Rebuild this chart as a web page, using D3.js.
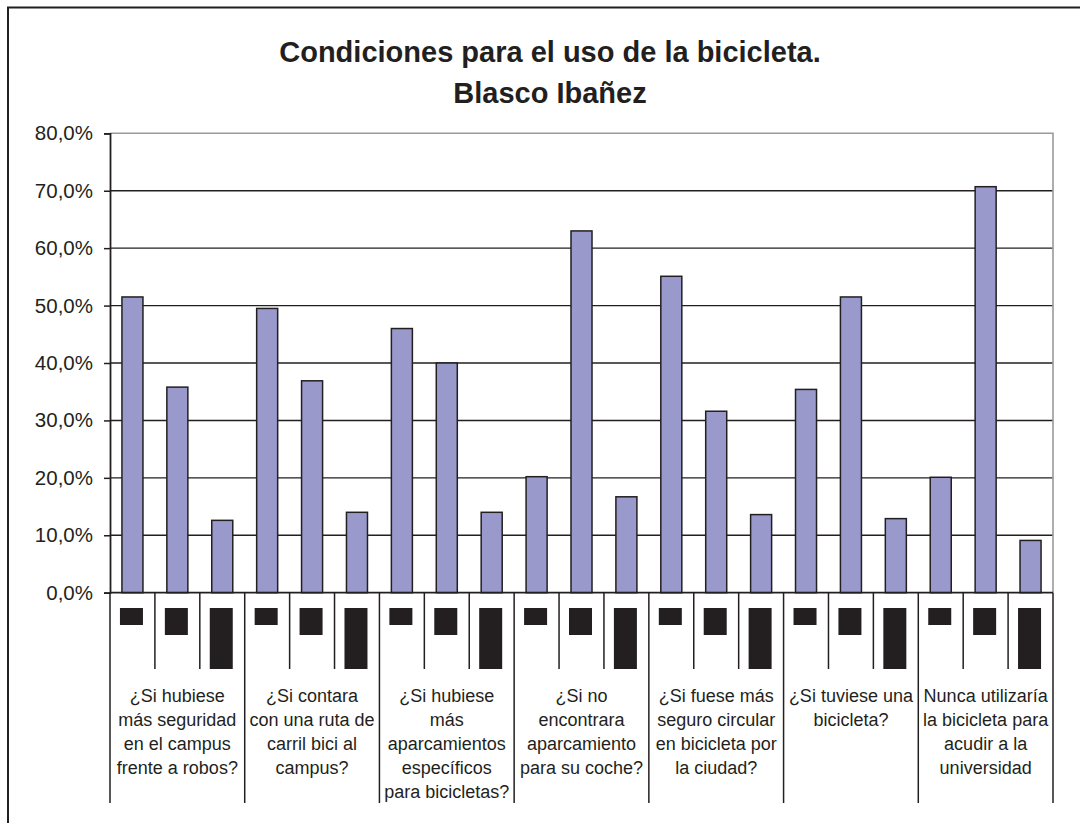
<!DOCTYPE html>
<html lang="es">
<head>
<meta charset="utf-8">
<script src="https://cdn.jsdelivr.net/npm/d3@7"></script>
<style>
  html, body { margin: 0; padding: 0; background: #ffffff; }
  svg { display: block; }
  text { font-family: "Liberation Sans", Arial, Helvetica, sans-serif; fill: #231f20; }
</style>
</head>
<body>
<svg id="chart" width="1080" height="823"></svg>
<script>
// Conditions under which respondents would use the bicycle (Blasco Ibañez campus)
const categories = [
  ["¿Si hubiese", "más seguridad", "en el campus", "frente a robos?"],
  ["¿Si contara", "con una ruta de", "carril bici al", "campus?"],
  ["¿Si hubiese", "más", "aparcamientos", "específicos", "para bicicletas?"],
  ["¿Si no", "encontrara", "aparcamiento", "para su coche?"],
  ["¿Si fuese más", "seguro circular", "en bicicleta por", "la ciudad?"],
  ["¿Si tuviese una", "bicicleta?"],
  ["Nunca utilizaría", "la bicicleta para", "acudir a la", "universidad"]
];
// Three answer columns per question (percent of respondents)
const answerA = [51.5, 49.5, 46.0, 20.2, 55.1, 35.4, 20.1];
const answerB = [35.8, 36.9, 40.0, 63.0, 31.6, 51.5, 70.7];
const answerC = [12.6, 14.0, 14.0, 16.7, 13.6, 12.9, 9.1];
const yTicks = [0, 10, 20, 30, 40, 50, 60, 70, 80];
const titleLines = ["Condiciones para el uso de la bicicleta.", "Blasco Ibañez"];

// Layout
const plot = { left: 110, right: 1053, top: 133.3, bottom: 592.7 };
const ink = "#231f20";
const barFill = "#9999cc";
const frameGray = "#9a9a9a";
const markerHeights = [17, 27, 61];   // inner-level label blocks under each column
const markerWidth = 23;

const svg = d3.select("#chart");

// Outer chart frame (runs off the right and bottom edges)
svg.append("rect")
  .attr("x", 8).attr("y", 7.5)
  .attr("width", 1100).attr("height", 860)
  .attr("fill", "#ffffff").attr("stroke", ink).attr("stroke-width", 2);

// Title
svg.append("g").selectAll("text")
  .data(titleLines).join("text")
  .attr("x", 550).attr("y", (d, i) => 62 + i * 41)
  .attr("text-anchor", "middle")
  .attr("font-size", 29).attr("font-weight", "bold")
  .text(d => d);

// Scales
const groupIdx = d3.range(categories.length);
const x0 = d3.scaleBand().domain(groupIdx).range([plot.left, plot.right]).padding(0);
const slotIdx = [0, 1, 2];
const x1 = d3.scaleBand().domain(slotIdx).range([0, x0.bandwidth()])
  .paddingInner(0.532).paddingOuter(0.266);
const slotScale = d3.scaleBand().domain(slotIdx).range([0, x0.bandwidth()]).padding(0);
const y = d3.scaleLinear().domain([0, 80]).range([plot.bottom, plot.top]);

// Gridlines
const grid = svg.append("g");
grid.selectAll("line")
  .data(yTicks.filter(t => t > 0 && t < 80)).join("line")
  .attr("x1", plot.left).attr("x2", plot.right)
  .attr("y1", d => y(d)).attr("y2", d => y(d))
  .attr("stroke", ink).attr("stroke-width", 1.4);

// Plot-area border (top and right in gray)
svg.append("path")
  .attr("d", `M${plot.left},${y(80)}H${plot.right}V${plot.bottom}`)
  .attr("fill", "none").attr("stroke", frameGray).attr("stroke-width", 1.6);

// Bars
const rows = groupIdx.flatMap(g => [
  { g, s: 0, v: answerA[g] },
  { g, s: 1, v: answerB[g] },
  { g, s: 2, v: answerC[g] }
]);
svg.append("g").selectAll("rect")
  .data(rows).join("rect")
  .attr("x", d => x0(d.g) + x1(d.s))
  .attr("y", d => y(d.v))
  .attr("width", x1.bandwidth())
  .attr("height", d => y(0) - y(d.v))
  .attr("fill", barFill)
  .attr("stroke", ink).attr("stroke-width", 1.5);

// Y axis
const yAxis = d3.axisLeft(y)
  .tickValues(yTicks)
  .tickSize(6)
  .tickPadding(11)
  .tickFormat(d => d3.format(".1f")(d).replace(".", ",") + "%");
const yg = svg.append("g")
  .attr("transform", `translate(${plot.left},0)`)
  .call(yAxis);
yg.select(".domain").attr("stroke", ink).attr("stroke-width", 1.8);
yg.selectAll(".tick line").attr("stroke", ink).attr("stroke-width", 1.5);
yg.selectAll(".tick text")
  .attr("font-size", 20.5).attr("fill", ink)
  .attr("font-family", "\"Liberation Sans\", Arial, sans-serif");

// Category axis (two levels)
const xa = svg.append("g");
xa.append("line")
  .attr("x1", plot.left).attr("x2", plot.right)
  .attr("y1", plot.bottom).attr("y2", plot.bottom)
  .attr("stroke", ink).attr("stroke-width", 1.8);

// Inner separators between answer columns
const innerSeps = groupIdx.flatMap(g => [1, 2].map(s => x0(g) + slotScale(s)));
xa.selectAll("line.inner")
  .data(innerSeps).join("line").attr("class", "inner")
  .attr("x1", d => d).attr("x2", d => d)
  .attr("y1", plot.bottom).attr("y2", 669)
  .attr("stroke", ink).attr("stroke-width", 1.5);

// Outer separators between questions
const outerSeps = groupIdx.map(g => x0(g)).concat([plot.right]);
xa.selectAll("line.outer")
  .data(outerSeps).join("line").attr("class", "outer")
  .attr("x1", d => d).attr("x2", d => d)
  .attr("y1", plot.bottom).attr("y2", 803)
  .attr("stroke", ink).attr("stroke-width", 1.5);

// Inner-level label blocks
xa.selectAll("rect.marker")
  .data(rows).join("rect").attr("class", "marker")
  .attr("x", d => x0(d.g) + slotScale(d.s) + slotScale.bandwidth() / 2 - markerWidth / 2 - 1)
  .attr("y", 608)
  .attr("width", markerWidth)
  .attr("height", d => markerHeights[d.s])
  .attr("fill", ink);

// Question labels
const labels = xa.selectAll("text.cat")
  .data(categories).join("text").attr("class", "cat")
  .attr("text-anchor", "middle")
  .attr("font-size", 18);
labels.selectAll("tspan")
  .data((d, i) => d.map(line => ({ line, i })))
  .join("tspan")
  .attr("x", d => x0(d.i) + x0.bandwidth() / 2)
  .attr("y", (d, j) => 702 + j * 24)
  .text(d => d.line);
</script>
</body>
</html>
